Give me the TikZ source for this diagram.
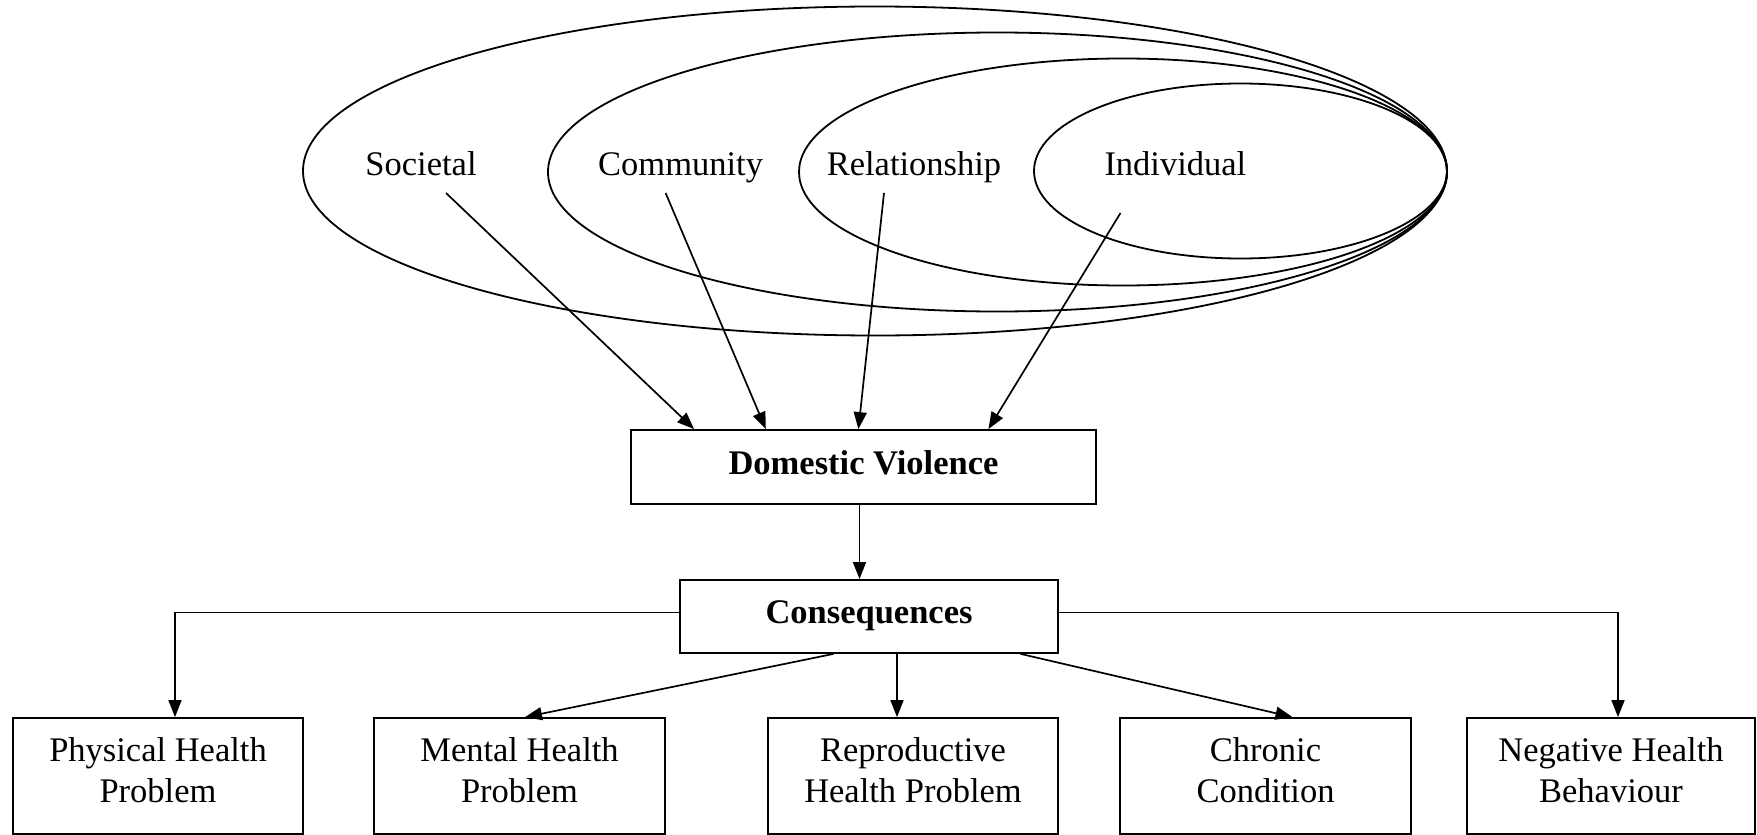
\documentclass[tikz,border=0pt]{standalone}
\usepackage{fontspec}
\setmainfont{Liberation Serif}
\usetikzlibrary{arrows.meta,calc}
\begin{document}
\begin{tikzpicture}[x=1pt,y=-1pt,
  ell/.style={line width=1.8pt},
  lbl/.style={font=\fontsize{34.5pt}{41.5pt}\selectfont, inner sep=0pt, anchor=base},
  box/.style={draw, line width=1.8pt, inner sep=0pt},
  bbox/.style={box, font=\fontsize{34.5pt}{41.5pt}\selectfont\bfseries, text height=23.6pt, text depth=9pt},
  txt/.style={font=\fontsize{34.5pt}{41.5pt}\selectfont, align=center, inner sep=0pt},
  arr/.style={line width=1.7pt, -{Triangle[length=17pt,width=13pt]}}]
\useasboundingbox (0,0) rectangle (1757,835);
\fill[white] (0,0) rectangle (1757,835);
% nested ellipses
\draw[ell] (875,171) ellipse [x radius=572pt, y radius=164.5pt];
\draw[ell] (997.5,172) ellipse [x radius=449.5pt, y radius=139.5pt];
\draw[ell] (1123,172) ellipse [x radius=324pt, y radius=113.5pt];
\draw[ell] (1240.5,171) ellipse [x radius=206.5pt, y radius=87.5pt];
% labels
\node[lbl] (soc) at (421,175) {Societal};
\node[lbl] (com) at (680.6,175) {Community};
\node[lbl] (rel) at (914,175) {Relationship};
\node[lbl] (ind) at (1175.4,175) {Individual};
\coordinate (socA) at (446,193);
\coordinate (comA) at (665.6,193);
\coordinate (relA) at (884,193);
\coordinate (indA) at (1120.5,213);
% main boxes
\node[bbox, minimum width=465pt, minimum height=74pt] (dv) at (863.5,467) {Domestic Violence};
\node[bbox, minimum width=378pt, minimum height=73pt] (cons) at (869,616.5) {Consequences};
% bottom boxes
\node[box, minimum width=290pt, minimum height=116pt] (phys) at (158,776) {};
\node[box, minimum width=291pt, minimum height=116pt] (ment) at (519.5,776) {};
\node[box, minimum width=290pt, minimum height=116pt] (repr) at (913,776) {};
\node[box, minimum width=291pt, minimum height=116pt] (chro) at (1265.5,776) {};
\node[box, minimum width=288pt, minimum height=116pt] (nega) at (1611,776) {};
\node[txt] (physT) at (158,770) {Physical Health\\Problem};
\node[txt] (mentT) at (519.5,770) {Mental Health\\Problem};
\node[txt] (reprT) at (913,770) {Reproductive\\Health Problem};
\node[txt] (chroT) at (1265.5,770) {Chronic\\Condition};
\node[txt] (negaT) at (1611,770) {Negative Health\\Behaviour};
% connectors
\draw[arr] (socA) -- ([xshift=64pt]dv.north west);
\draw[arr] (comA) -- ([xshift=135.7pt]dv.north west);
\draw[arr] (relA) -- ([xshift=228.3pt]dv.north west);
\draw[arr] (indA) -- ([xshift=358.3pt]dv.north west);
\draw[arr] ([xshift=-4pt]dv.south) -- ([xshift=-4pt]dv.south |- cons.north);
\draw[arr] ([yshift=4pt]cons.west) -| ([xshift=17pt]phys.north);
\draw[arr] ([xshift=-35.5pt]cons.south) -- ([xshift=5.5pt]ment.north);
\draw[arr] ([xshift=28pt]cons.south) -- ([xshift=28pt]cons.south |- repr.north);
\draw[arr] ([xshift=151.6pt]cons.south) -- ([xshift=27pt]chro.north);
\draw[arr] ([yshift=4pt]cons.east) -| ([xshift=7pt]nega.north);
\end{tikzpicture}
\end{document}
